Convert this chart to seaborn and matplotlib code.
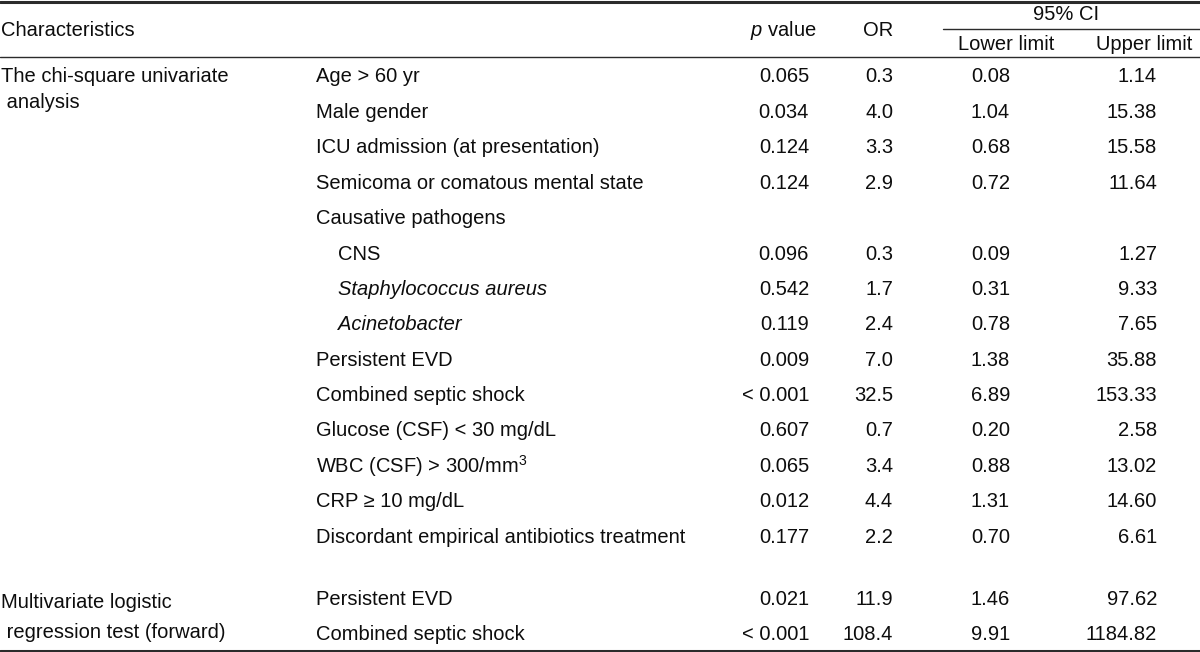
import pandas as pd
import seaborn as sns
import matplotlib.pyplot as plt

# Table content
group_labels = ["The chi-square univariate", " analysis",
                "Multivariate logistic", " regression test (forward)"]
characteristics = [
    "Age > 60 yr", "Male gender", "ICU admission (at presentation)",
    "Semicoma or comatous mental state", "Causative pathogens",
    "CNS", "Staphylococcus aureus", "Acinetobacter",
    "Persistent EVD", "Combined septic shock",
    "Glucose (CSF) < 30 mg/dL", r"WBC (CSF) > 300/mm$^{3}$",
    "CRP \u2265 10 mg/dL", "Discordant empirical antibiotics treatment",
    "Persistent EVD", "Combined septic shock",
]
p_values = ["0.065", "0.034", "0.124", "0.124", "", "0.096", "0.542", "0.119",
            "0.009", "< 0.001", "0.607", "0.065", "0.012", "0.177",
            "0.021", "< 0.001"]
odds_ratio = ["0.3", "4.0", "3.3", "2.9", "", "0.3", "1.7", "2.4",
              "7.0", "32.5", "0.7", "3.4", "4.4", "2.2",
              "11.9", "108.4"]
ci_lower = ["0.08", "1.04", "0.68", "0.72", "", "0.09", "0.31", "0.78",
            "1.38", "6.89", "0.20", "0.88", "1.31", "0.70",
            "1.46", "9.91"]
ci_upper = ["1.14", "15.38", "15.58", "11.64", "", "1.27", "9.33", "7.65",
            "35.88", "153.33", "2.58", "13.02", "14.60", "6.61",
            "97.62", "1184.82"]
indented = ["CNS", "Staphylococcus aureus", "Acinetobacter"]
italic = ["Staphylococcus aureus", "Acinetobacter"]

df = pd.DataFrame({"label": characteristics, "p": p_values, "OR": odds_ratio,
                   "lower": ci_lower, "upper": ci_upper})

sns.set_theme(style="white")
plt.rcParams['font.family'] = ['Liberation Sans', 'DejaVu Sans']
plt.rcParams['mathtext.fontset'] = 'custom'
plt.rcParams['mathtext.rm'] = 'Liberation Sans'
plt.rcParams['mathtext.it'] = 'Liberation Sans:italic'

fig = plt.figure(figsize=(12, 6.52), dpi=100)
ax = fig.add_axes([0, 0, 1, 1])
ax.set_xlim(0, 1200)
ax.set_ylim(652, 0)
ax.axis("off")

fs = 14.5
txt = "#0d0d0d"
line_col = "#2b2b2b"

# rules
ax.plot([0, 1200], [1.5, 1.5], color=line_col, lw=2.2)
ax.plot([0, 1200], [57, 57], color=line_col, lw=1.0)
ax.plot([943, 1200], [29, 29], color=line_col, lw=1.0)
ax.plot([0, 1200], [650.5, 650.5], color=line_col, lw=2.2)

# header
ax.text(1, 31, "Characteristics", fontsize=fs, color=txt, va="center", ha="left")
ax.text(783, 31, r"$p$ value", fontsize=fs, color=txt, va="center", ha="center")
ax.text(878, 31, "OR", fontsize=fs, color=txt, va="center", ha="center")
ax.text(1066, 14, "95% CI", fontsize=fs, color=txt, va="center", ha="center")
ax.text(1006, 44, "Lower limit", fontsize=fs, color=txt, va="center", ha="center")
ax.text(1144, 44, "Upper limit", fontsize=fs, color=txt, va="center", ha="center")

# row positions
step = 35.4
row_y = [77 + step * i for i in range(14)] + [599.2, 634.6]

ax.text(1, 77, group_labels[0], fontsize=fs, color=txt, va="center")
ax.text(1, 102, group_labels[1], fontsize=fs, color=txt, va="center")
ax.text(1, 602, group_labels[2], fontsize=fs, color=txt, va="center")
ax.text(1, 632, group_labels[3], fontsize=fs, color=txt, va="center")

for y, row in zip(row_y, df.itertuples()):
    x0 = 338 if row.label in indented else 316
    style = "italic" if row.label in italic else "normal"
    ax.text(x0, y, row.label, fontsize=fs, color=txt, va="center",
            ha="left", style=style)
    ax.text(809, y, row.p, fontsize=fs, color=txt, va="center", ha="right")
    ax.text(893, y, row.OR, fontsize=fs, color=txt, va="center", ha="right")
    ax.text(1010, y, row.lower, fontsize=fs, color=txt, va="center", ha="right")
    ax.text(1157, y, row.upper, fontsize=fs, color=txt, va="center", ha="right")

fig.savefig("out.png", dpi=100, facecolor="white")
plt.close(fig)
